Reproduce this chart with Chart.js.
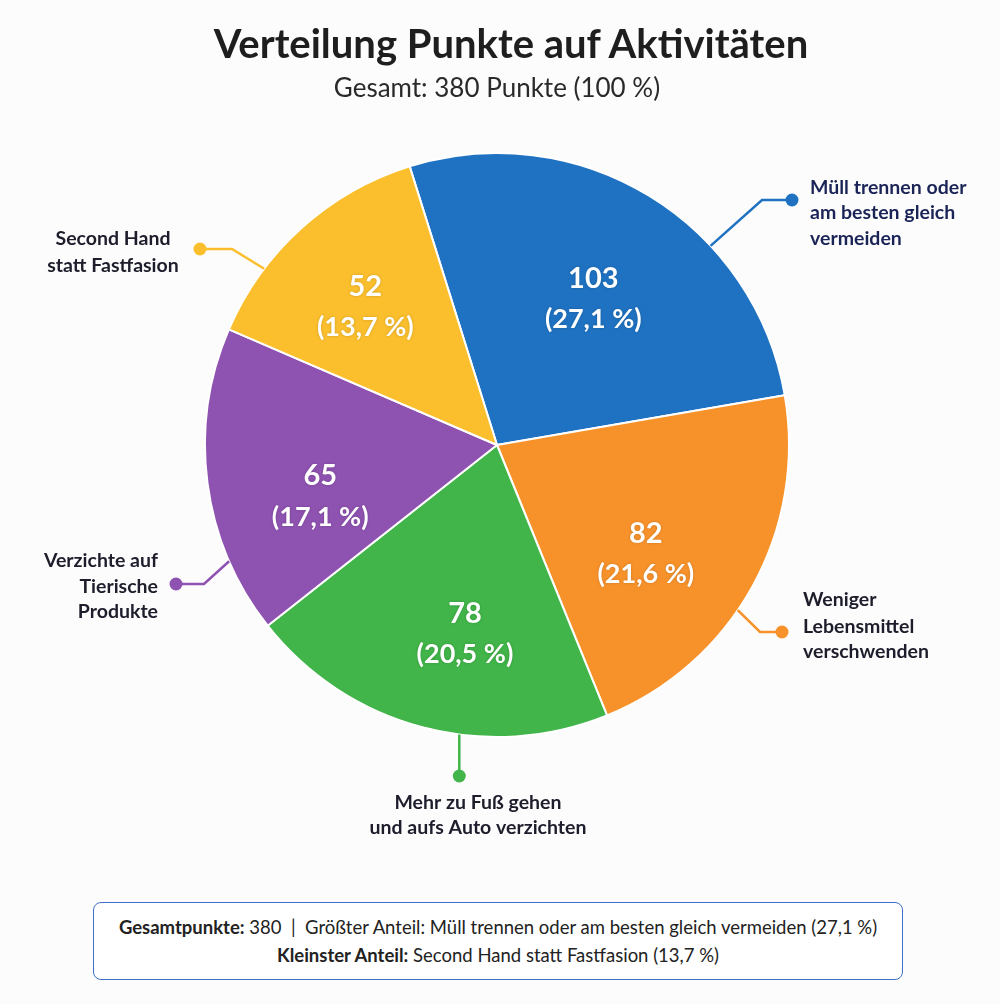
<!DOCTYPE html>
<html lang="de">
<head>
<meta charset="utf-8">
<title>Verteilung Punkte auf Aktivitäten</title>
<script src="https://cdn.jsdelivr.net/npm/chart.js@4.4.1/dist/chart.umd.min.js"></script>
<style>
    html, body { margin: 0; padding: 0; background: #fcfcfd; }
    #wrap { position: relative; width: 1000px; height: 1004px; font-family: Lato, "Open Sans", sans-serif; color: #222; }
    #pie { position: absolute; left: 0; top: 0; }
    #title { position: absolute; top: 19px; left: 11px; width: 1000px; text-align: center; margin: 0; font-size: 40px; font-weight: 700; color: #1e1e1e; }
    #subtitle { position: absolute; top: 71px; left: -3px; width: 1000px; text-align: center; margin: 0; font-size: 26px; font-weight: 400; color: #2a2a2a; }
    #footer { position: absolute; left: 93px; top: 902px; width: 810px; height: 78px; border: 1.5px solid #3f6fc6; border-radius: 8px; box-sizing: border-box; text-align: center; font-size: 18.5px; color: #222; background: #fff; }
    #footer div { line-height: 28px; }
    #footer div:first-child { margin-top: 10px; }
</style>
</head>
<body>
<div id="wrap">
    <canvas id="pie" width="1000" height="1004"></canvas>
    <h1 id="title">Verteilung Punkte auf Aktivitäten</h1>
    <p id="subtitle"></p>
    <div id="footer"><div id="foot1"></div><div id="foot2"></div></div>
</div>
<script>
// categories (line breaks as shown in the callouts)
const categories = [
    ['Müll trennen oder', 'am besten gleich', 'vermeiden'],
    ['Weniger', 'Lebensmittel', 'verschwenden'],
    ['Mehr zu Fuß gehen', 'und aufs Auto verzichten'],
    ['Verzichte auf', 'Tierische', 'Produkte'],
    ['Second Hand', 'statt Fastfasion']
];
const points = [103, 82, 78, 65, 52];
const colors = ['#1f72c1', '#f7922b', '#41b549', '#8e52b0', '#fbbf2d'];

const total = points.reduce((a, b) => a + b, 0);
const pct = v => (v / total * 100).toFixed(1).replace('.', ',');
const fullName = i => categories[i].join(' ');

// where the value text sits inside each slice (fraction of arc, fraction of radius)
const inner = [
    { frac: 0.52, r: 0.60 },
    { frac: 0.59, r: 0.63 },
    { frac: 0.43, r: 0.655 },
    { frac: 0.36, r: 0.63 },
    { frac: 0.47, r: 0.655 }
];

// callout placement: frac = where along the arc the leader starts
const callouts = [
    { frac: 0.66, elbow: [762, 200], dot: [792, 200], align: 'left', tx: 810, ty: [188, 213, 239], color: '#1b2456' },
    { frac: 0.57, elbow: [760, 632], dot: [782, 632], align: 'left', tx: 803, ty: [600, 627, 652], color: '#1d1d2b' },
    { frac: 0.40, elbow: null, dot: [null, 776], align: 'center', tx: 478, ty: [803, 828], color: '#1d1d2b' },
    { frac: 0.24, elbow: [204, 584], dot: [176, 584], align: 'right', tx: 158, ty: [561, 587, 612], color: '#1d1d2b' },
    { frac: 0.28, elbow: [232, 249], dot: [200, 249], align: 'center', tx: 113, ty: [239, 266], color: '#1d1d2b' }
];

const labelPlugin = {
    id: 'sliceLabels',
    afterDatasetsDraw(chart) {
        const ctx = chart.ctx;
        const meta = chart.getDatasetMeta(0);
        meta.data.forEach((arc, i) => {
            const p = arc.getProps(['x', 'y', 'startAngle', 'endAngle', 'outerRadius'], true);
            const mid = p.startAngle + (p.endAngle - p.startAngle) * inner[i].frac;
            const r = p.outerRadius * inner[i].r;
            const cx = p.x + Math.cos(mid) * r;
            const cy = p.y + Math.sin(mid) * r;

            ctx.save();
            ctx.fillStyle = '#ffffff';
            ctx.textAlign = 'center';
            ctx.textBaseline = 'middle';
            ctx.shadowColor = 'rgba(0,0,0,0.18)';
            ctx.shadowBlur = 3;
            ctx.font = '700 29px Lato, "Open Sans", sans-serif';
            ctx.fillText(String(points[i]), cx, cy - 20);
            ctx.font = '700 27px Lato, "Open Sans", sans-serif';
            ctx.fillText('(' + pct(points[i]) + ' %)', cx, cy + 21);
            ctx.restore();

            // leader line + dot + category text
            const c = callouts[i];
            const a = p.startAngle + (p.endAngle - p.startAngle) * c.frac;
            const sx = p.x + Math.cos(a) * p.outerRadius;
            const sy = p.y + Math.sin(a) * p.outerRadius;
            const dx = c.dot[0] === null ? sx : c.dot[0];
            const dy = c.dot[1];

            ctx.save();
            ctx.strokeStyle = colors[i];
            ctx.fillStyle = colors[i];
            ctx.lineWidth = 2.5;
            ctx.beginPath();
            ctx.moveTo(sx, sy);
            if (c.elbow) ctx.lineTo(c.elbow[0], c.elbow[1]);
            ctx.lineTo(dx, dy);
            ctx.stroke();
            ctx.beginPath();
            ctx.arc(dx, dy, 6.5, 0, Math.PI * 2);
            ctx.fill();

            ctx.fillStyle = c.color;
            ctx.textAlign = c.align;
            ctx.textBaseline = 'middle';
            ctx.font = '700 19.5px Lato, "Open Sans", sans-serif';
            categories[i].forEach((line, j) => ctx.fillText(line, c.tx, c.ty[j]));
            ctx.restore();
        });
    }
};

new Chart(document.getElementById('pie'), {
    type: 'pie',
    data: {
        labels: categories.map(c => c.join(' ')),
        datasets: [{
            data: points,
            backgroundColor: colors,
            borderColor: '#ffffff',
            borderWidth: 2
        }]
    },
    options: {
        responsive: false,
        animation: false,
        rotation: -17.4,
        layout: { padding: { left: 204, right: 210, top: 152, bottom: 266 } },
        plugins: {
            legend: { display: false },
            tooltip: { enabled: false }
        }
    },
    plugins: [labelPlugin]
});

// texts derived from the data
document.getElementById('subtitle').textContent = 'Gesamt: ' + total + ' Punkte (100 %)';
const maxI = points.indexOf(Math.max(...points));
const minI = points.indexOf(Math.min(...points));
document.getElementById('foot1').innerHTML = '<b>Gesamtpunkte:</b> ' + total +
    ' &nbsp;|&nbsp; Größter Anteil: ' + fullName(maxI) + ' (' + pct(points[maxI]) + ' %)';
document.getElementById('foot2').innerHTML = '<b>Kleinster Anteil:</b> ' + fullName(minI) + ' (' + pct(points[minI]) + ' %)';
</script>
</body>
</html>
